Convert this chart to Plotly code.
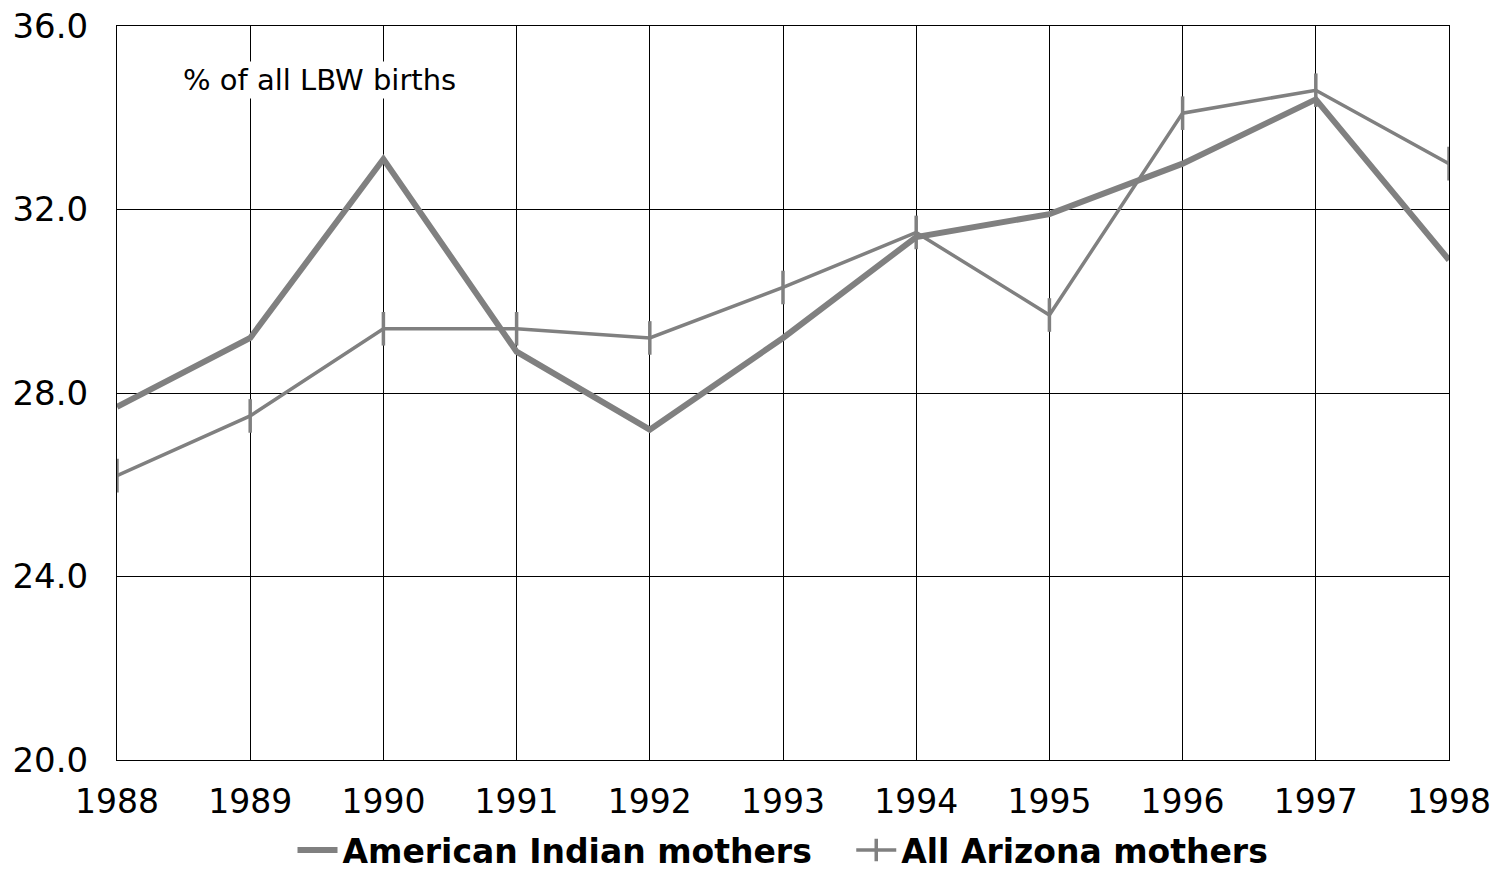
import plotly.graph_objects as go

years = [1988, 1989, 1990, 1991, 1992, 1993, 1994, 1995, 1996, 1997, 1998]
american_indian = [27.7, 29.2, 33.1, 28.9, 27.2, 29.2, 31.4, 31.9, 33.0, 34.4, 30.9]
all_arizona = [26.2, 27.5, 29.4, 29.4, 29.2, 30.3, 31.5, 29.7, 34.1, 34.6, 33.0]
y_ticks = [20.0, 24.0, 28.0, 32.0, 36.0]

fig = go.Figure()
fig.add_trace(go.Scatter(
    x=years, y=american_indian, name="American Indian mothers   ",
    mode="lines", line=dict(color="#808080", width=6),
))
fig.add_trace(go.Scatter(
    x=years, y=all_arizona, name="All Arizona mothers",
    mode="lines+markers", line=dict(color="#808080", width=3.5),
    marker=dict(symbol="line-ns-open", size=24, line=dict(color="#808080", width=3.5)),
))

fig.add_annotation(
    x=0.048, y=0.926, xref="paper", yref="paper", xanchor="left", yanchor="middle",
    text="% of all LBW births", showarrow=False, bgcolor="white",
    font=dict(family="DejaVu Sans", size=29, color="black"),
)

fig.update_layout(
    width=1495, height=878,
    margin=dict(l=117, r=46, t=26, b=118),
    paper_bgcolor="white", plot_bgcolor="white",
    font=dict(family="DejaVu Sans", size=33, color="black"),
    showlegend=True,
    legend=dict(orientation="h", x=0.5, xanchor="center", yref="container",
                y=0.0, yanchor="bottom",
                font=dict(family="DejaVu Sans", size=33, color="black", weight="bold"),
                itemwidth=40),
    xaxis=dict(range=[1988, 1998], tickmode="array", tickvals=years,
               ticktext=[str(y) for y in years], automargin=False,
               showgrid=True, gridcolor="black", gridwidth=1,
               showline=True, linecolor="black", linewidth=1, mirror=True,
               zeroline=False, ticks="", ticklabelstandoff=12,
               tickfont=dict(size=33)),
    yaxis=dict(range=[20, 36], tickmode="array", tickvals=y_ticks,
               ticktext=[f"{v:.1f}" for v in y_ticks], automargin=False,
               showgrid=True, gridcolor="black", gridwidth=1,
               showline=True, linecolor="black", linewidth=1, mirror=True,
               zeroline=False, ticks="", ticklabelstandoff=21,
               tickfont=dict(size=34)),
)

fig.write_html("out.html", config={"displayModeBar": False},
               post_script="document.body.style.margin='0';")
